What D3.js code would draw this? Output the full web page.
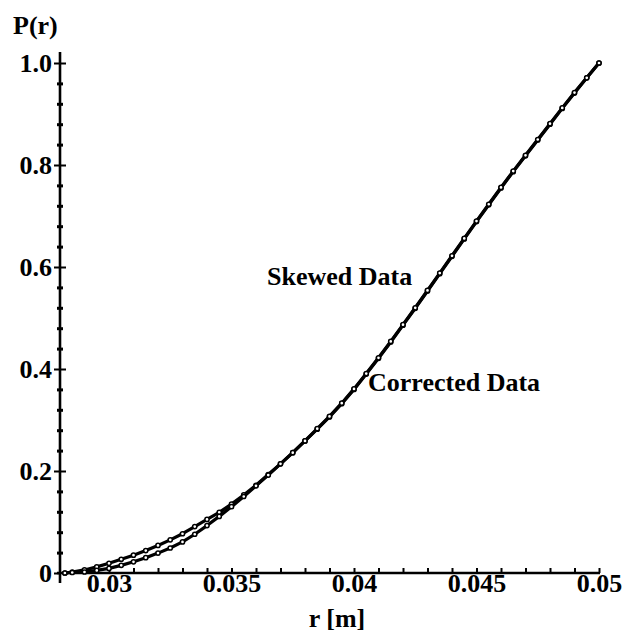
<!DOCTYPE html>
<html>
<head>
<meta charset="utf-8">
<script src="https://cdn.jsdelivr.net/npm/d3@7"></script>
<style>
  html, body { margin: 0; padding: 0; background: #fff; }
  svg { display: block; }
  text { font-family: "Liberation Serif", "Times New Roman", serif; font-weight: bold; fill: #000; }
</style>
</head>
<body>
<svg id="chart" width="626" height="636"></svg>
<script>
// radius values r [m]
const rSkewed = [0.0282, 0.0285, 0.0290, 0.0295, 0.0300, 0.0305, 0.0310, 0.0315, 0.0320, 0.0325,
  0.0330, 0.0335, 0.0340, 0.0345, 0.0350, 0.0355, 0.0360, 0.0365, 0.0370, 0.0375,
  0.0380, 0.0385, 0.0390, 0.0395, 0.0400, 0.0405, 0.0410, 0.0415, 0.0420, 0.0425,
  0.0430, 0.0435, 0.0440, 0.0445, 0.0450, 0.0455, 0.0460, 0.0465, 0.0470, 0.0475,
  0.0480, 0.0485, 0.0490, 0.0495, 0.0500];
// cumulative probability P(r), skewed data
const pSkewed = [0.000, 0.002, 0.006, 0.012, 0.019, 0.027, 0.035, 0.044, 0.054, 0.065,
  0.077, 0.091, 0.105, 0.119, 0.135, 0.153, 0.172, 0.193, 0.214, 0.236,
  0.259, 0.282, 0.306, 0.332, 0.360, 0.390, 0.421, 0.453, 0.486, 0.519,
  0.553, 0.587, 0.621, 0.655, 0.689, 0.722, 0.755, 0.787, 0.818, 0.849,
  0.880, 0.911, 0.941, 0.971, 1.000];

const rCorrected = [0.0282, 0.0285, 0.0290, 0.0295, 0.0300, 0.0305, 0.0310, 0.0315, 0.0320, 0.0325,
  0.0330, 0.0335, 0.0340, 0.0345, 0.0350, 0.0355, 0.0360, 0.0365, 0.0370, 0.0375,
  0.0380, 0.0385, 0.0390, 0.0395, 0.0400, 0.0405, 0.0410, 0.0415, 0.0420, 0.0425,
  0.0430, 0.0435, 0.0440, 0.0445, 0.0450, 0.0455, 0.0460, 0.0465, 0.0470, 0.0475,
  0.0480, 0.0485, 0.0490, 0.0495, 0.0500];
// cumulative probability P(r), corrected data
const pCorrected = [0.000, 0.001, 0.002, 0.005, 0.009, 0.015, 0.022, 0.030, 0.039, 0.049,
  0.061, 0.076, 0.093, 0.111, 0.130, 0.150, 0.171, 0.192, 0.214, 0.236,
  0.259, 0.283, 0.307, 0.333, 0.361, 0.391, 0.422, 0.454, 0.487, 0.520,
  0.554, 0.588, 0.622, 0.656, 0.690, 0.723, 0.756, 0.788, 0.819, 0.850,
  0.881, 0.912, 0.942, 0.971, 1.000];

const xTickLabels = [0.03, 0.035, 0.04, 0.045, 0.05];
const xMinorTicks = [0.029, 0.030, 0.031, 0.032, 0.033, 0.034, 0.035, 0.036, 0.037, 0.038, 0.039,
  0.040, 0.041, 0.042, 0.043, 0.044, 0.045, 0.046, 0.047, 0.048, 0.049, 0.050];
const yTickLabels = [0, 0.2, 0.4, 0.6, 0.8, 1.0];
const yMinorTicks = [0.04, 0.08, 0.12, 0.16, 0.24, 0.28, 0.32, 0.36, 0.44, 0.48, 0.52, 0.56,
  0.64, 0.68, 0.72, 0.76, 0.84, 0.88, 0.92, 0.96];

const series = [
  { name: "Skewed Data", r: rSkewed, p: pSkewed },
  { name: "Corrected Data", r: rCorrected, p: pCorrected }
];

const svg = d3.select("#chart");
const x = d3.scaleLinear().domain([0.028, 0.05]).range([60, 599]);
const y = d3.scaleLinear().domain([0, 1]).range([573, 63]);

const x0 = x(0.028), y0 = y(0);

// axis lines
svg.append("line").attr("x1", x0).attr("x2", x0).attr("y1", y0 + 10).attr("y2", y(1) - 11)
  .attr("stroke", "#000").attr("stroke-width", 2.6);
svg.append("line").attr("x1", x0 - 3).attr("x2", x(0.05) + 1).attr("y1", y0).attr("y2", y0)
  .attr("stroke", "#000").attr("stroke-width", 2.6);

function styleAxis(g) {
  g.select(".domain").remove();
  g.selectAll(".tick line").attr("stroke", "#000").attr("stroke-width", 2);
}

// y minor ticks (both sides of the axis)
svg.append("g").attr("transform", `translate(${x0},0)`)
  .call(d3.axisLeft(y).tickValues(yMinorTicks).tickSize(3).tickFormat(""))
  .call(styleAxis)
  .call(g => g.selectAll(".tick line").attr("stroke-width", 3));
svg.append("g").attr("transform", `translate(${x0},0)`)
  .call(d3.axisRight(y).tickValues(yMinorTicks).tickSize(3).tickFormat(""))
  .call(styleAxis)
  .call(g => g.selectAll(".tick line").attr("stroke-width", 3));

// y major ticks with labels
svg.append("g").attr("transform", `translate(${x0},0)`)
  .call(d3.axisLeft(y).tickValues(yTickLabels).tickSize(6).tickPadding(2)
    .tickFormat(d => d === 0 ? "0" : d3.format(".1f")(d)))
  .call(styleAxis)
  .call(g => g.selectAll("text").attr("font-size", 26).attr("font-family", null));
svg.append("g").attr("transform", `translate(${x0},0)`)
  .call(d3.axisRight(y).tickValues(yTickLabels.filter(d => d > 0)).tickSize(6).tickFormat(""))
  .call(styleAxis);

// x ticks (above the axis)
svg.append("g").attr("transform", `translate(0,${y0})`)
  .call(d3.axisTop(x).tickValues(xMinorTicks).tickSize(5).tickFormat(""))
  .call(styleAxis);

// x labels
svg.append("g").attr("transform", `translate(0,${y0})`)
  .call(d3.axisBottom(x).tickValues(xTickLabels).tickSize(0).tickPadding(1)
    .tickFormat(d => String(d)))
  .call(styleAxis)
  .call(g => g.selectAll("text").attr("font-size", 26).attr("font-family", null));

// curves: thick line with hollow circle markers at each sample
const line = d3.line().x(d => x(d[0])).y(d => y(d[1]));
series.forEach(s => {
  const pts = s.r.map((r, i) => [r, s.p[i]]);
  svg.append("path").datum(pts).attr("d", line)
    .attr("fill", "none").attr("stroke", "#000").attr("stroke-width", 3.2)
    .attr("stroke-linejoin", "round");
  svg.append("g").selectAll("circle").data(pts).join("circle")
    .attr("cx", d => x(d[0])).attr("cy", d => y(d[1])).attr("r", 2.1)
    .attr("fill", "#fff").attr("stroke", "#000").attr("stroke-width", 1.5);
});

// annotations
svg.append("text").attr("x", 267).attr("y", 285).attr("font-size", 26).text("Skewed Data");
svg.append("text").attr("x", 368).attr("y", 391).attr("font-size", 26).text("Corrected Data");

// axis titles
svg.append("text").attr("x", 13).attr("y", 34).attr("font-size", 26).text("P(r)");
svg.append("text").attr("x", 337).attr("y", 627).attr("font-size", 26)
  .attr("text-anchor", "middle").text("r [m]");
</script>
</body>
</html>
